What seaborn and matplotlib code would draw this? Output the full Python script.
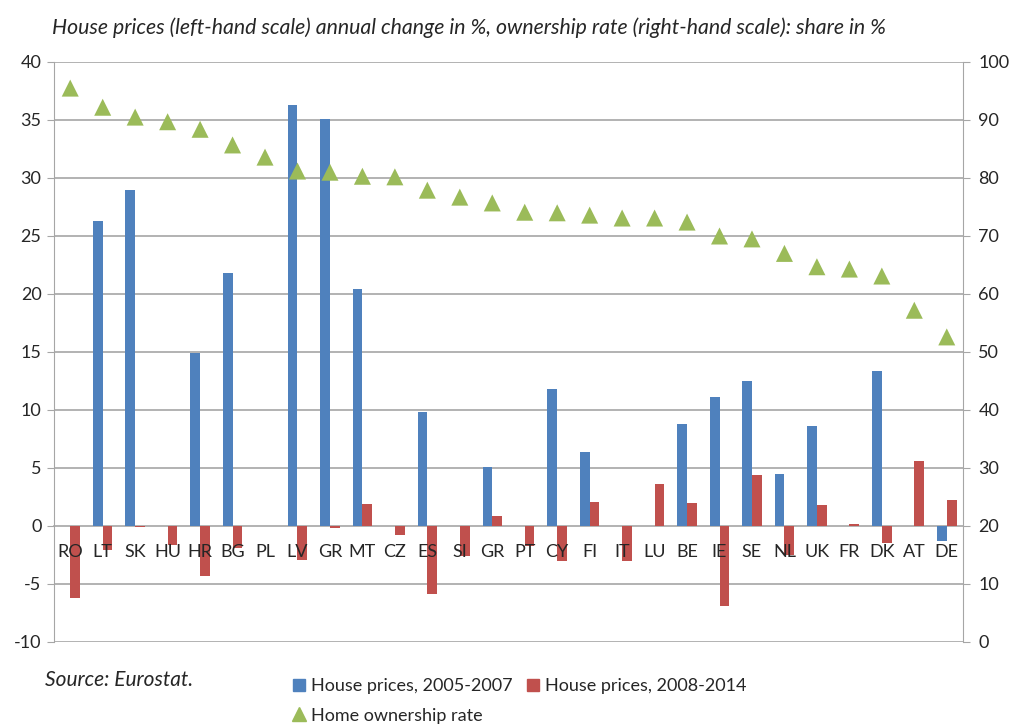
import numpy as np
import pandas as pd
import matplotlib
matplotlib.use("Agg")
import matplotlib.pyplot as plt
from matplotlib.lines import Line2D
import seaborn as sns

countries = ["RO", "LT", "SK", "HU", "HR", "BG", "PL", "LV", "GR", "MT", "CZ", "ES", "SI", "GR",
             "PT", "CY", "FI", "IT", "LU", "BE", "IE", "SE", "NL", "UK", "FR", "DK", "AT", "DE"]
prices_0507 = [0, 26.3, 29.0, 0, 14.9, 21.8, 0, 36.3, 35.1, 20.4, 0, 9.8, 0, 5.1,
               0, 11.8, 6.4, 0, 0, 8.8, 11.1, 12.5, 4.5, 8.6, 0, 13.4, 0, -1.3]
prices_0814 = [-6.2, -2.1, -0.1, -1.6, -4.3, -1.9, 0, -2.9, -0.2, 1.9, -0.8, -5.9, -2.6, 0.9,
               -1.7, -3.0, 2.1, -3.0, 3.6, 2.0, -6.9, 4.4, -2.5, 1.8, 0.2, -1.5, 5.6, 2.2]
ownership = [95.5, 92.2, 90.5, 89.7, 88.4, 85.7, 83.6, 81.2, 81.0, 80.3, 80.2, 77.9, 76.7, 75.7,
             74.1, 74.0, 73.6, 73.1, 73.1, 72.4, 70.0, 69.5, 67.0, 64.7, 64.3, 63.1, 57.2, 52.6]

s1 = "House prices, 2005-2007"
s2 = "House prices, 2008-2014"
s3 = "Home ownership rate"

pos = list(range(len(countries)))
df = pd.DataFrame({
    "pos": pos * 2,
    "value": prices_0507 + prices_0814,
    "series": [s1] * len(pos) + [s2] * len(pos),
})
df_own = pd.DataFrame({"pos": pos, "value": ownership})

sns.set_style("white")
plt.rcParams["font.family"] = ["Lato", "DejaVu Sans"]

blue = "#4f81bd"
red = "#c0504d"
green = "#9bbb59"
grid_c = "#a6a6a6"

fig = plt.figure(figsize=(10.13, 7.24), dpi=100)
ax = fig.add_axes([54 / 1013, 1 - 642 / 724, (963 - 54) / 1013, (642 - 62) / 724])

sns.barplot(data=df, x="pos", y="value", hue="series", hue_order=[s1, s2],
            palette=[blue, red], width=0.6, ax=ax, legend=False, saturation=1,
            linewidth=0)

yt = np.arange(-10, 41, 5)
ax.set_ylim(-10, 40)
ax.set_yticks(yt)
ax.set_yticklabels([str(v) for v in yt], fontsize=13)
ax.set_xlim(-0.5, len(countries) - 0.5)
ax.grid(False)
for v in yt:
    if v != 0:
        ax.axhline(v, color=grid_c, linewidth=1.2, zorder=0.5)
ax.set_axisbelow(False)
ax.set_xlabel("")
ax.set_ylabel("")

for sp in ["top", "right"]:
    ax.spines[sp].set_visible(False)
ax.spines["left"].set_color(grid_c)
ax.spines["bottom"].set_color(grid_c)
ax.spines["bottom"].set_linewidth(1.2)
ax.spines["bottom"].set_position(("data", 0))
ax.spines["bottom"].set_zorder(0.6)

ax.set_xticks(pos)
ax.set_xticklabels(countries, fontsize=13)
ax.set_xticks(np.arange(0.5, len(countries) - 0.5, 1), minor=True)
ax.tick_params(axis="x", which="major", length=0, pad=13)
ax.tick_params(axis="x", which="minor", length=5, color=grid_c, direction="out")
ax.tick_params(axis="y", length=5, color=grid_c, direction="out", pad=4)

ax2 = ax.twinx()
sns.scatterplot(data=df_own, x="pos", y="value", marker="^", s=150, color=green,
                edgecolor="none", ax=ax2, legend=False, zorder=5)
ax2.set_ylim(0, 100)
yt2 = np.arange(0, 101, 10)
ax2.set_yticks(yt2)
ax2.set_yticklabels([str(v) for v in yt2], fontsize=13)
ax2.set_xlim(-0.5, len(countries) - 0.5)
ax2.set_ylabel("")
ax2.set_xlabel("")
for sp in ["top", "left", "bottom"]:
    ax2.spines[sp].set_visible(False)
ax2.spines["right"].set_color(grid_c)
ax2.tick_params(axis="y", length=5, color=grid_c, direction="out", pad=6)

fig.text(52 / 1013, 1 - 28 / 724,
         "House prices (left-hand scale) annual change in %, ownership rate (right-hand scale): share in %",
         fontsize=15.3, style="italic", va="center", ha="left")
fig.text(45 / 1013, 1 - 680 / 724, "Source: Eurostat.", fontsize=15, style="italic",
         va="center", ha="left")

handles = [
    Line2D([], [], marker="s", color=blue, linestyle="none", markersize=8),
    Line2D([], [], marker="^", color=green, linestyle="none", markersize=10),
    Line2D([], [], marker="s", color=red, linestyle="none", markersize=8),
]
labels = [s1, s3, s2]
fig.legend(handles, labels, ncol=2, loc="upper left",
           bbox_to_anchor=(293 / 1013, 1 - 678 / 724), frameon=False, fontsize=13,
           handlelength=0.7, handletextpad=0.3, columnspacing=0.8, labelspacing=0.75,
           borderpad=0, borderaxespad=0)

fig.savefig("out.png", dpi=100)
